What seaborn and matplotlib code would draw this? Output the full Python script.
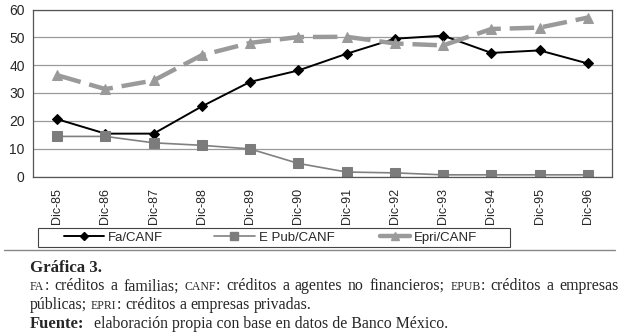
import matplotlib
matplotlib.use('Agg')

import matplotlib.pyplot as plt
import numpy as np
import pandas as pd
import seaborn as sns
from matplotlib.lines import Line2D
from matplotlib.patches import Rectangle

# ------------------------------------------------------------
#     Data
# ------------------------------------------------------------

periods = ["Dic-85", "Dic-86", "Dic-87", "Dic-88", "Dic-89", "Dic-90",
           "Dic-91", "Dic-92", "Dic-93", "Dic-94", "Dic-95", "Dic-96"]
fa_canf = [20.6, 15.4, 15.4, 25.2, 34.0, 38.1, 44.1, 49.5, 50.6, 44.4, 45.3, 40.6]
epub_canf = [14.4, 14.4, 12.1, 11.2, 9.9, 4.7, 1.6, 1.3, 0.6, 0.6, 0.6, 0.6]
epri_canf = [36.4, 31.4, 34.5, 43.6, 48.0, 50.1, 50.2, 47.8, 47.1, 53.0, 53.5, 57.1]
series_names = ["Fa/CANF", "E Pub/CANF", "Epri/CANF"]
y_ticks = [0, 10, 20, 30, 40, 50, 60]

caption_title = "Gráfica 3."
caption_lines = [
    "[FA]: créditos a familias; [CANF]: créditos a agentes no financieros; [EPUB]: créditos a empresas",
    "públicas; [EPRI]: créditos a empresas privadas.",
]
source_label = "Fuente:"
source_text = "elaboración propia con base en datos de Banco México."

# ------------------------------------------------------------
#     Settings
# ------------------------------------------------------------

W, H, DPI = 624, 335, 100
sans = "Liberation Sans"
serif = "Liberation Serif"

def fx(px):
    return px / W

def fy(py):
    return 1 - py / H

df = pd.DataFrame({
    "period": periods * 3,
    "pos": list(range(len(periods))) * 3,
    "value": fa_canf + epub_canf + epri_canf,
    "series": sum([[n] * len(periods) for n in series_names], []),
})

styles = {
    "Fa/CANF": dict(color="black", lw=1.4, marker="D", ms=5.5, mfc="black", mec="black", ls="-"),
    "E Pub/CANF": dict(color="#808080", lw=1.2, marker="s", ms=6.5, mfc="#7c7c7c", mec="#7c7c7c", ls="-"),
    "Epri/CANF": dict(color="#9a9a9a", lw=3.2, marker="^", ms=7, mfc="#9a9a9a", mec="#9a9a9a",
                      ls=(0, (5.5, 2.0))),
}
# legend handle start (px) and handle length (em) for each entry
legend_pos = {"Fa/CANF": (64, 3.0), "E Pub/CANF": (214, 3.1), "Epri/CANF": (380, 2.3)}

# ------------------------------------------------------------
#     Plot
# ------------------------------------------------------------

sns.set_style("white")
plt.rcParams['font.family'] = [sans, 'DejaVu Sans']

fig = plt.figure(figsize=(W / DPI, H / DPI), dpi=DPI)
ax = fig.add_axes([fx(33), fy(176.5), fx(612) - fx(33), fy(9.5) - fy(176.5)])

for name in series_names:
    st = styles[name]
    sub = df[df["series"] == name]
    sns.lineplot(data=sub, x="pos", y="value", ax=ax, sort=False, color=st["color"],
                 linewidth=st["lw"], linestyle=st["ls"], marker=st["marker"],
                 markersize=st["ms"], markerfacecolor=st["mfc"], markeredgecolor=st["mec"],
                 legend=False)

ax.set_xlim(-0.5, len(periods) - 0.5)
ax.set_ylim(0, 60)
ax.set_yticks(y_ticks)
ax.set_yticklabels([str(v) for v in y_ticks], fontsize=10)
ax.set_xticks(range(len(periods)))
ax.set_xticklabels(periods, rotation=90, fontsize=9)
ax.set_xticks(np.arange(-0.5, len(periods), 1.0), minor=True)
ax.tick_params(axis="x", which="major", length=0, pad=8.5)
ax.tick_params(axis="x", which="minor", length=4, width=0.8, color="#555555", direction="out")
ax.tick_params(axis="y", length=4, width=0.8, color="#555555", direction="out", pad=2)
ax.set_xlabel("")
ax.set_ylabel("")
ax.yaxis.grid(True, color="#9a9a9a", lw=0.9)
ax.set_axisbelow(True)
for side in ["left", "bottom", "top", "right"]:
    ax.spines[side].set_visible(True)
    ax.spines[side].set_color("#555555")
    ax.spines[side].set_linewidth(0.9)

# Legend in one row below the tick labels, box drawn by hand
fig.add_artist(Rectangle((fx(38), fy(247)), fx(510) - fx(38), fy(228) - fy(247),
                         transform=fig.transFigure, fill=False, edgecolor="#444444", lw=0.8))
for name in series_names:
    st = styles[name]
    h = Line2D([], [], color=st["color"], lw=st["lw"], ls="-",
               marker=st["marker"], ms=st["ms"] - 1, mfc=st["mfc"], mec=st["mec"])
    x0, hl = legend_pos[name]
    fig.legend([h], [name], loc="center left",
               bbox_to_anchor=(fx(x0), fy(237.5)), bbox_transform=fig.transFigure,
               frameon=False, fontsize=9.5, handlelength=hl, borderpad=0, borderaxespad=0,
               handletextpad=0.3)

# Separator line under the chart
fig.add_artist(Line2D([fx(4), fx(615)], [fy(250), fy(250)], transform=fig.transFigure,
                      color="#888888", lw=1.0))

# ------------------------------------------------------------
#     Caption
# ------------------------------------------------------------

renderer = fig.canvas.get_renderer()
base_size = 11.4
small_size = 8.5

def parse_words(line):
    words = []
    for w in line.split(" "):
        pieces = []
        rest = w
        while rest:
            if rest.startswith("["):
                end = rest.index("]")
                pieces.append((rest[1:end], small_size, "normal"))
                rest = rest[end + 1:]
            else:
                nxt = rest.find("[")
                if nxt == -1:
                    nxt = len(rest)
                pieces.append((rest[:nxt], base_size, "normal"))
                rest = rest[nxt:]
        words.append(pieces)
    return words

def word_width(pieces):
    total = 0
    for s, size, weight in pieces:
        t = fig.text(0, 0, s, fontsize=size, fontweight=weight, family=serif)
        total += t.get_window_extent(renderer).width
        t.remove()
    return total

def draw_line(words, x0, ybase, right=None):
    space = base_size * DPI / 72 * 0.25
    widths = [word_width(p) for p in words]
    if right is not None and len(words) > 1:
        space = (right - x0 - sum(widths)) / (len(words) - 1)
    x = x0
    for pieces, w in zip(words, widths):
        for s, size, weight in pieces:
            t = fig.text(fx(x), fy(ybase), s, fontsize=size, fontweight=weight,
                         family=serif, va="baseline", ha="left")
            x += t.get_window_extent(renderer).width
        x += space

x_left = 30
draw_line([[(caption_title, 12.2, "bold")]], x_left, 272)
draw_line(parse_words(caption_lines[0]), x_left, 290.5, right=619)
draw_line(parse_words(caption_lines[1]), x_left, 309)
t = fig.text(fx(x_left), fy(327.5), source_label, fontsize=12, fontweight="bold",
             family=serif, va="baseline")
sw = t.get_window_extent(renderer).width
fig.text(fx(x_left + sw + 10), fy(327.5), source_text, fontsize=base_size, family=serif, va="baseline")

fig.savefig("out.png", dpi=DPI)
